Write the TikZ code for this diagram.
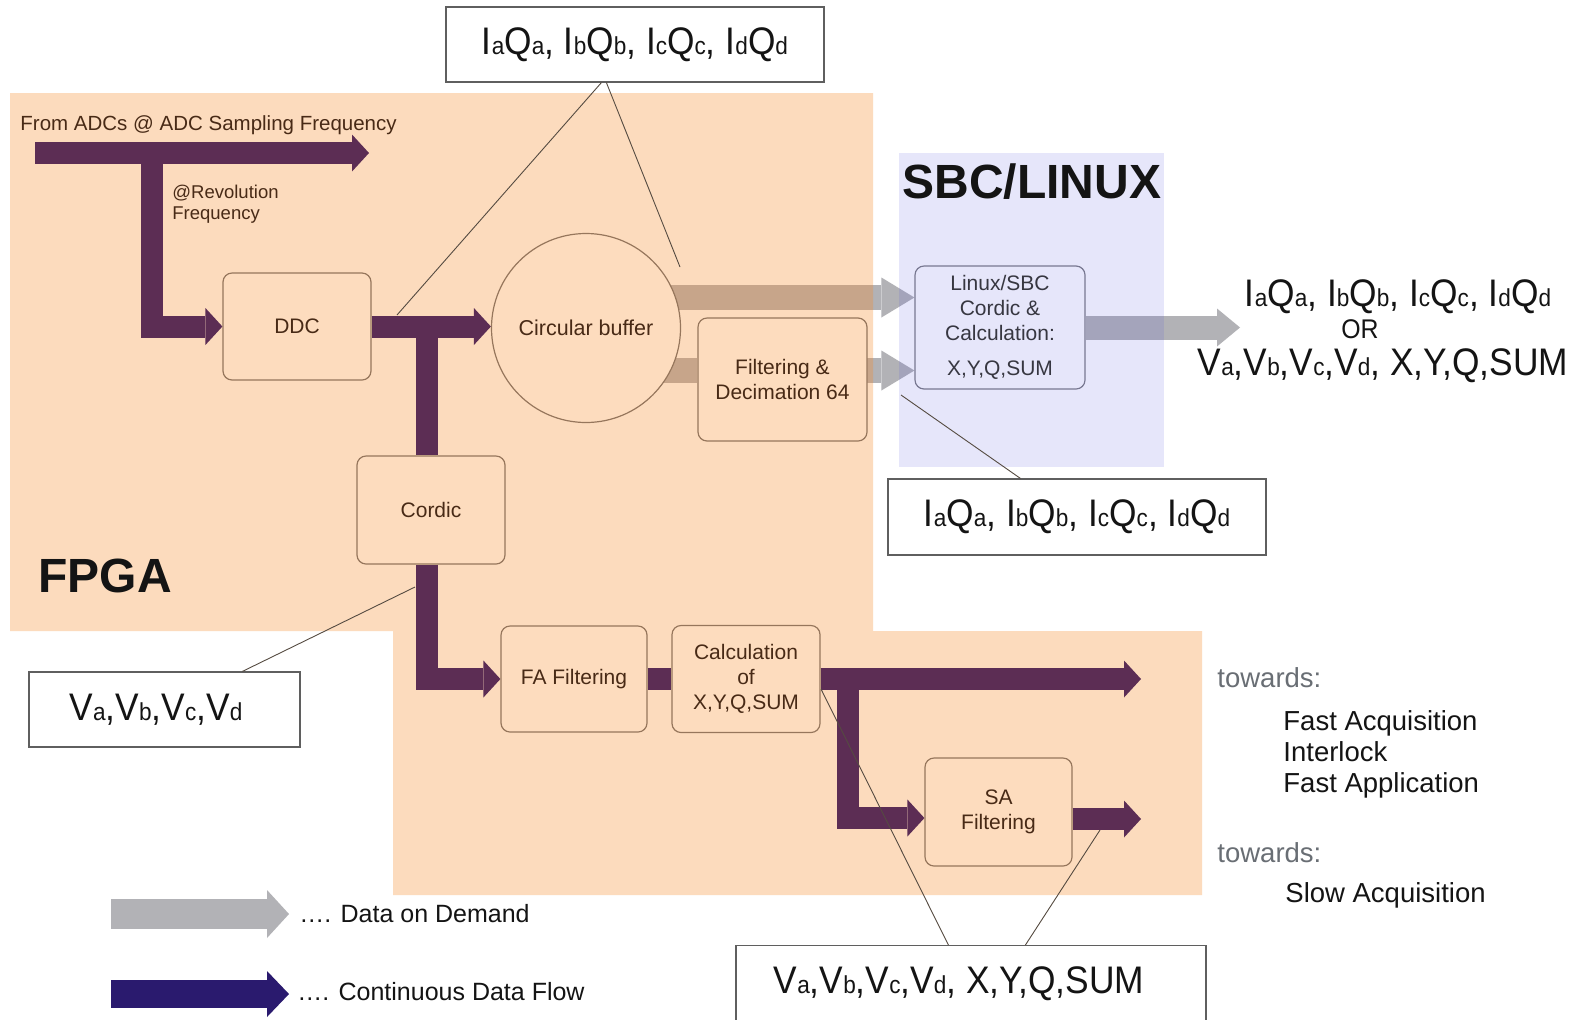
\documentclass[tikz,border=0pt]{standalone}
\usepackage{fontspec}
\setmainfont{Liberation Sans}
\newfontfamily\bigfam[FakeStretch=0.92]{Liberation Sans}
\usetikzlibrary{arrows.meta,calc}
\definecolor{purp}{RGB}{92,45,84}
\definecolor{dpurp}{RGB}{42,26,110}
\definecolor{garrow}{RGB}{178,178,182}
\definecolor{orng}{RGB}{248,138,38}
\definecolor{lavb}{RGB}{88,88,222}
\definecolor{fpgafill}{RGB}{253,220,190}
\definecolor{brn}{RGB}{72,42,22}
\definecolor{bbord}{RGB}{150,118,92}
\definecolor{lbord}{RGB}{120,120,145}
\definecolor{cbord}{RGB}{95,95,95}
\definecolor{clinec}{RGB}{85,75,65}
\definecolor{towg}{RGB}{105,110,116}
\definecolor{ltxt}{RGB}{55,55,65}
\definecolor{blk}{RGB}{20,20,20}
\newcommand\lsub[1]{\scalebox{0.64}{#1}}
\newcommand\myIQ{I\lsub{a}Q\lsub{a}, I\lsub{b}Q\lsub{b}, I\lsub{c}Q\lsub{c}, I\lsub{d}Q\lsub{d}}
\newcommand\myVV{V\lsub{a},V\lsub{b},V\lsub{c},V\lsub{d}}
\newcommand\fsz[2]{\fontsize{#1}{#2}\selectfont}
\pgfdeclarelayer{greyl}
\pgfdeclarelayer{regions}
\pgfsetlayers{greyl,regions,main}
\begin{document}
\begin{tikzpicture}[x=0.5pt,y=-0.5pt,
  flow/.style={draw=purp, line width=11pt, line join=miter, -{Triangle[length=8.5pt,width=18.5pt,line width=0pt]}},
  flowbar/.style={draw=purp, line width=11pt, line join=miter},
  demand/.style={draw=garrow, line width=12.5pt, -{Triangle[length=16.5pt,width=20pt,line width=0pt]}},
  demandbar/.style={draw=garrow, line width=12.5pt},
  blockbox/.style={draw=bbord, line width=0.6pt, rounded corners=4.5pt, fill=fpgafill, text=brn, align=center, inner sep=0pt, font=\fsz{10.5pt}{12.5pt}},
  bigtext/.style={font=\bigfam\fsz{19.2pt}{22pt}},
  callout/.style={draw=cbord, line width=0.6pt, fill=white, inner sep=0pt, text=blk, bigtext},
  cline/.style={draw=clinec, line width=0.45pt},
  lbl/.style={inner sep=0pt, anchor=base west, text=blk},
]
\useasboundingbox (0,0) rectangle (1583,1019);

% ---------- blocks ----------
\node[blockbox, minimum width=74pt, minimum height=53.5pt] (ddc) at (297,326.5) {DDC};
\node[blockbox, circle, rounded corners=0pt, minimum size=94.5pt, font=\fsz{10.75pt}{12.5pt}] (circ) at (586,328) {Circular buffer};
\node[blockbox, minimum width=84.5pt, minimum height=61.5pt] (filt) at (782.5,379.5) {Filtering \&\\Decimation 64};
\node[blockbox, minimum width=74pt, minimum height=54pt] (cordic) at (431,510) {Cordic};
\node[blockbox, minimum width=73pt, minimum height=53pt] (fa) at (574,679) {FA Filtering};
\node[blockbox, minimum width=74pt, minimum height=53.5pt] (calc) at (746,679) {Calculation\\of\\X,Y,Q,SUM};
\node[blockbox, minimum width=73.5pt, minimum height=54pt] (sa) at (998.5,812) {SA\\Filtering};
\node[blockbox, draw=lbord, fill=none, text=ltxt, minimum width=85pt, minimum height=61.5pt] (linux) at (1000,327.5) {Linux/SBC\\Cordic \&\\Calculation:\\[5pt]X,Y,Q,SUM};

% ---------- free ends / junctions ----------
\coordinate (adcin) at (35,153);
\coordinate (adcout) at (369,153);
\coordinate (br1) at (152,153);
\coordinate (br2) at (426.5,327.5);
\coordinate (br3) at (848,679);
\coordinate (fastout) at (1141,679);
\coordinate (slowout) at (1141,819);
\coordinate (sbcout) at (1240,327.5);

% ---------- data on demand (grey) ----------
\begin{pgfonlayer}{greyl}
\fill[white] (0,0) rectangle (1583,1019);
\draw[demand] ($(circ.center)+(0,-30.5)$) -- ($(linux.west)+(0,-30)$);
\draw[demandbar] ($(circ.center)+(0,42.5)$) -- ($(filt.west)+(0,-9)$);
\draw[demand] ($(filt.center)+(0,-9)$) -- ($(linux.west)+(0,43)$);
\draw[demand, line width=12pt, -{Triangle[length=11.5pt,width=19pt,line width=0pt]}] (linux.east) -- (sbcout);
\end{pgfonlayer}

% ---------- regions ----------
\begin{pgfonlayer}{regions}
\fill[orng, fill opacity=0.3] (10,93) -- (873,93) -- (873,631) -- (1202,631) -- (1202,895) -- (393,895) -- (393,631) -- (10,631) -- cycle;
\fill[lavb, fill opacity=0.15] (899,153) rectangle (1164,467);
\end{pgfonlayer}

% ---------- continuous flow (purple) ----------
\draw[flow] (adcin) -- (adcout);
\draw[flow] (br1) |- (ddc.west);
\draw[flow] (ddc.east) -- (ddc.east -| circ.west);
\draw[flowbar] (br2) -- (br2 |- cordic.north);
\draw[flow] (br2 |- cordic.south) |- (fa.west);
\draw[flowbar] (fa.east) -- (fa.east -| calc.west);
\draw[flow] (calc.east) -- (fastout);
\draw[flow] (br3) |- ($(sa.west)+(0,6)$);
\draw[flow] ($(sa.east)+(0,7)$) -- (slowout);

% ---------- labels ----------
\node[lbl, text=brn, font=\fsz{10.25pt}{12pt}] (adclbl) at (20,130) {From ADCs @ ADC Sampling Frequency};
\node[lbl, text=brn, font=\fsz{9.25pt}{11pt}] (revlbl1) at (172,198) {@Revolution};
\node[lbl, text=brn, font=\fsz{9.25pt}{11pt}] (revlbl2) at (172,219) {Frequency};
\node[lbl, font=\bfseries\fsz{24pt}{28pt}] (fpgalbl) at (38,592) {FPGA};
\node[lbl, font=\bfseries\fsz{24pt}{28pt}] (sbclbl) at (902,198) {SBC/LINUX};

\node[inner sep=0pt, anchor=base, text=blk, bigtext] (outA) at (1398,306) {\myIQ};
\node[inner sep=0pt, anchor=base, text=blk, font=\bigfam\fsz{13.5pt}{15pt}] (outOR) at (1360,338) {OR};
\node[inner sep=0pt, anchor=base, text=blk, bigtext] (outB) at (1383,375) {\myVV, X,Y,Q,SUM};

\node[lbl, text=towg, font=\fsz{13.75pt}{16pt}] (tw1) at (1217,687) {towards:};
\node[lbl, font=\fsz{13.75pt}{16pt}] (fast1) at (1283,730) {Fast Acquisition};
\node[lbl, font=\fsz{13.75pt}{16pt}] (fast2) at (1283,761) {Interlock};
\node[lbl, font=\fsz{13.75pt}{16pt}] (fast3) at (1283,792) {Fast Application};
\node[lbl, text=towg, font=\fsz{13.75pt}{16pt}] (tw2) at (1217,862) {towards:};
\node[lbl, font=\fsz{13.75pt}{16pt}] (slow1) at (1285,902) {Slow Acquisition};

% ---------- legend ----------
\coordinate (lg1a) at (111,914);
\coordinate (lg1b) at (289,914);
\coordinate (lg2a) at (111,994);
\coordinate (lg2b) at (289,994);
\draw[draw=garrow, line width=15pt, -{Triangle[length=11pt,width=24pt,line width=0pt]}] (lg1a) -- (lg1b);
\draw[draw=dpurp, line width=14pt, -{Triangle[length=11pt,width=23pt,line width=0pt]}] (lg2a) -- (lg2b);
\node[lbl, font=\fsz{12.5pt}{15pt}] (lgt1) at (299,922) {…. Data on Demand};
\node[lbl, font=\fsz{12.5pt}{15pt}] (lgt2) at (297,1000) {…. Continuous Data Flow};

% ---------- callouts ----------
\node[callout, minimum width=189pt, minimum height=37.5pt] (topc) at (635,44.5) {\myIQ};
\node[callout, minimum width=189pt, minimum height=38pt] (midc) at (1077,517) {\myIQ};
\node[callout, minimum width=135.5pt, minimum height=37.5pt] (vc) at (164.5,709.5) {\myVV\hspace*{8.5pt}};
\node[callout, minimum width=235pt, minimum height=38.5pt, anchor=north] (botc) at (971,945) {\myVV, X,Y,Q,SUM\hspace*{12pt}};

\coordinate (ddcjoin) at (397,315);
\coordinate (circtop) at (680,267);
\coordinate (greyjoin) at (901,395);
\coordinate (cordjoin) at (415,587);
\coordinate (calcjoin) at (821,689);
\coordinate (saoutjoin) at (1100,830);
\draw[cline] ($(topc.south west)+(156,0)$) -- (ddcjoin);
\draw[cline] ($(topc.south west)+(161,0)$) -- (circtop);
\draw[cline] (greyjoin) -- ($(midc.north west)+(133,0)$);
\draw[cline] ($(vc.north west)+(214,0)$) -- (cordjoin);
\draw[cline] ($(botc.north west)+(213,0)$) -- (calcjoin);
\draw[cline] ($(botc.north west)+(290,0)$) -- (saoutjoin);
\end{tikzpicture}
\end{document}
